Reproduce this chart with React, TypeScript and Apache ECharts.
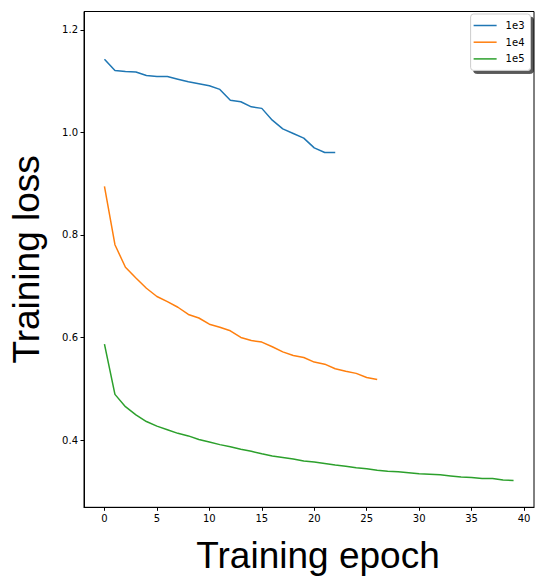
import React, { useEffect, useRef } from "react";
import * as echarts from "echarts";

const seriesNames = ["1e3", "1e4", "1e5"];
const seriesColors = ["#1f77b4", "#ff7f0e", "#2ca02c"];

const loss1e3 = [
  1.143, 1.121, 1.119, 1.118, 1.111, 1.109, 1.109, 1.104, 1.099, 1.095, 1.091,
  1.084, 1.063, 1.06, 1.05, 1.047, 1.024, 1.007, 0.998, 0.989, 0.97, 0.961, 0.961,
];
const loss1e4 = [
  0.895, 0.781, 0.737, 0.716, 0.696, 0.68, 0.67, 0.659, 0.645, 0.638, 0.626,
  0.62, 0.613, 0.6, 0.594, 0.591, 0.582, 0.572, 0.565, 0.561, 0.552, 0.548,
  0.539, 0.534, 0.53, 0.522, 0.518,
];
const loss1e5 = [
  0.587, 0.489, 0.465, 0.449, 0.436, 0.427, 0.42, 0.413, 0.408, 0.401, 0.396,
  0.391, 0.387, 0.382, 0.378, 0.373, 0.369, 0.366, 0.363, 0.359, 0.357, 0.354,
  0.351, 0.349, 0.346, 0.344, 0.341, 0.339, 0.338, 0.336, 0.334, 0.333, 0.332,
  0.33, 0.328, 0.327, 0.325, 0.325, 0.322, 0.321,
];
const allSeries = [loss1e3, loss1e4, loss1e5];

const xTicks = [0, 5, 10, 15, 20, 25, 30, 35, 40];
const yTicks = [0.4, 0.6, 0.8, 1.0, 1.2];

export default function App() {
  const ref = useRef<HTMLDivElement>(null);
  useEffect(() => {
    if (!ref.current) return;
    const chart = echarts.init(ref.current, undefined, { renderer: "svg" });
    const tickFont = { fontFamily: "DejaVu Sans", fontSize: 10, color: "#000" };
    chart.setOption({
      animation: false,
      backgroundColor: "#fff",
      grid: {
        left: 82.5,
        top: 11.5,
        right: 1,
        bottom: 580 - 507.3,
        show: true,
        borderColor: "#000",
        borderWidth: 1,
        backgroundColor: "transparent",
      },
      legend: {
        orient: "vertical",
        right: 4.5,
        top: 14,
        data: seriesNames,
        icon: "rect",
        itemWidth: 23,
        itemHeight: 1.5,
        itemGap: 3.7,
        padding: [5, 6, 5, 3],
        backgroundColor: "#fff",
        borderColor: "#cccccc",
        borderWidth: 1,
        borderRadius: 3,
        shadowColor: "rgba(0,0,0,0.65)",
        shadowBlur: 0,
        shadowOffsetX: 3,
        shadowOffsetY: 3,
        textStyle: {
          fontFamily: "DejaVu Sans",
          fontSize: 10,
          color: "#000",
          lineHeight: 13,
          padding: [0, 0, 0, 4],
        },
      },
      xAxis: {
        type: "value",
        min: -1.95,
        max: 40.95,
        name: "Training epoch",
        nameLocation: "middle",
        nameGap: 30,
        nameTextStyle: {
          fontFamily: "Liberation Sans",
          fontSize: 37,
          color: "#000",
          padding: [0, 0, 0, 18],
        },
        splitLine: { show: false },
        axisLine: { show: true, onZero: false, lineStyle: { color: "#000", width: 1 } },
        axisTick: {
          show: true,
          length: 3.5,
          inside: false,
          customValues: xTicks,
          lineStyle: { color: "#000", width: 1 },
        },
        axisLabel: { ...tickFont, margin: 6, customValues: xTicks, formatter: (v: number) => String(v) },
      },
      yAxis: {
        type: "value",
        min: 0.2687,
        max: 1.236,
        name: "Training loss",
        nameLocation: "middle",
        nameRotate: 90,
        nameGap: 39,
        nameTextStyle: { fontFamily: "Liberation Sans", fontSize: 37, color: "#000" },
        splitLine: { show: false },
        axisLine: { show: true, onZero: false, lineStyle: { color: "#000", width: 1 } },
        axisTick: {
          show: true,
          length: 3.5,
          inside: false,
          customValues: yTicks,
          lineStyle: { color: "#000", width: 1 },
        },
        axisLabel: {
          ...tickFont,
          margin: 6,
          customValues: yTicks,
          formatter: (v: number) => v.toFixed(1),
        },
      },
      series: allSeries.map((vals, k) => ({
        name: seriesNames[k],
        type: "line",
        data: vals.map((v, i) => [i, v]),
        showSymbol: false,
        symbol: "none",
        color: seriesColors[k],
        lineStyle: { color: seriesColors[k], width: 1.5 },
      })),
    });
    return () => chart.dispose();
  }, []);
  return (
    <div
      ref={ref}
      style={{ position: "fixed", left: 0, top: 0, width: 535, height: 580 }}
    />
  );
}
